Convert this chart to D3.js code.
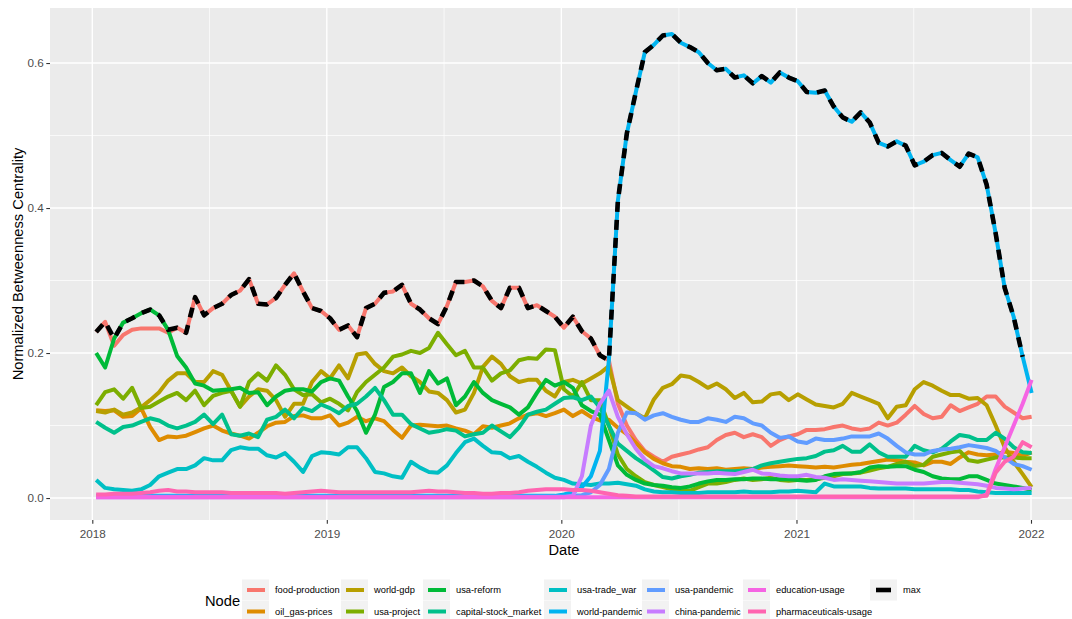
<!DOCTYPE html>
<html>
<head>
<meta charset="utf-8">
<script src="https://cdn.jsdelivr.net/npm/d3@7"></script>
<style>
  body { margin: 0; background: #fff; }
  svg { display: block; font-family: "Liberation Sans", Arial, sans-serif; }
</style>
</head>
<body>
<div id="chart"></div>
<script>
// node names and ggplot hue colours, in legend order
const nodeNames = ['food-production', 'oil_gas-prices', 'world-gdp', 'usa-project', 'usa-reform',
  'capital-stock_market', 'usa-trade_war', 'world-pandemic', 'usa-pandemic', 'china-pandemic',
  'education-usage', 'pharmaceuticals-usage'];
const nodeColors = ['#F8766D', '#DE8C00', '#B79F00', '#7CAE00', '#00BA38', '#00C08B',
  '#00BFC4', '#00B4F0', '#619CFF', '#C77CFF', '#F564E3', '#FF64B0'];

// dates: one reading every two weeks from this day
const firstDate = '2018-01-07';
const stepDays = 14;

const foodProduction = [
  .229, .243, .21, .225, .232, .234, .234, .234, .228, .235,
  .228, .277, .252, .262, .268, .28, .286, .302, .268, .267,
  .276, .294, .31, .285, .262, .258, .248, .232, .238, .222,
  .262, .268, .283, .285, .294, .268, .26, .248, .24, .265,
  .298, .298, .3, .292, .272, .262, .29, .29, .262, .266,
  .258, .25, .235, .25, .23, .22, .197, .19, .13, .1,
  .08, .065, .057, .05, .057, .06, .063, .067, .07, .08,
  .087, .09, .084, .088, .084, .072, .08, .085, .088, .094,
  .094, .095, .098, .1, .096, .094, .096, .104, .1, .104,
  .115, .127, .116, .11, .112, .128, .12, .125, .13, .14,
  .14, .126, .118, .11, .112];
const oilGasPrices = [
  .121, .12, .121, .112, .113, .124, .098, .08, .085, .084,
  .086, .091, .096, .1, .093, .089, .086, .082, .09, .099,
  .104, .105, .113, .114, .11, .11, .114, .1, .104, .112,
  .106, .11, .106, .094, .083, .1, .101, .1, .099, .1,
  .096, .093, .088, .099, .097, .1, .103, .11, .115, .117,
  .113, .117, .122, .113, .12, .112, .107, .108, .097, .088,
  .076, .063, .054, .048, .044, .043, .04, .041, .04, .041,
  .039, .04, .041, .04, .042, .043, .044, .045, .044, .043,
  .042, .043, .042, .044, .046, .047, .049, .051, .053, .052,
  .05, .049, .045, .05, .05, .047, .056, .063, .06, .059,
  .06, .064, .062, .058, .063];
const worldGdp = [
  .12, .118, .122, .115, .118, .125, .135, .146, .162, .172,
  .172, .16, .16, .175, .17, .148, .126, .14, .15, .148,
  .135, .112, .13, .13, .16, .175, .165, .183, .165, .198,
  .2, .185, .175, .172, .18, .168, .16, .147, .145, .135,
  .118, .122, .145, .181, .195, .185, .168, .16, .163, .163,
  .148, .14, .16, .163, .158, .165, .172, .182, .135, .126,
  .117, .11, .136, .152, .157, .169, .167, .16, .152, .158,
  .15, .138, .145, .132, .133, .143, .145, .135, .143, .136,
  .129, .127, .125, .13, .145, .14, .135, .13, .11, .126,
  .128, .15, .16, .155, .148, .142, .142, .137, .138, .128,
  .1, .07, .05, .033, .015];
const usaProject = [
  .128, .146, .15, .137, .152, .124, .126, .133, .14, .145,
  .135, .148, .128, .141, .145, .148, .126, .16, .172, .162,
  .183, .17, .15, .142, .143, .132, .137, .13, .121, .146,
  .16, .17, .18, .195, .198, .203, .2, .207, .228, .212,
  .197, .203, .18, .18, .162, .172, .176, .19, .193, .192,
  .205, .204, .15, .14, .16, .135, .135, .1, .06, .04,
  .03, .022, .018, .015, .012, .01, .01, .015, .02, .02,
  .022, .025, .027, .025, .026, .028, .025, .024, .025, .025,
  .026, .028, .03, .033, .034, .035, .038, .041, .043, .047,
  .05, .044, .046, .057, .06, .063, .065, .052, .05, .053,
  .056, .056, .056, .055, .055];
const usaReform = [
  .2, .18, .22, .242, .248, .255, .26, .252, .232, .196,
  .18, .158, .155, .148, .149, .15, .152, .145, .146, .128,
  .14, .148, .15, .15, .147, .16, .165, .162, .14, .12,
  .09, .115, .153, .16, .172, .172, .145, .175, .158, .165,
  .128, .14, .16, .145, .135, .13, .125, .115, .125, .145,
  .163, .155, .16, .152, .128, .12, .115, .08, .045, .032,
  .025, .02, .018, .017, .015, .014, .016, .02, .023, .025,
  .025, .026, .026, .027, .027, .026, .026, .026, .025, .024,
  .025, .03, .033, .034, .034, .036, .042, .044, .043, .044,
  .044, .039, .036, .03, .027, .026, .026, .03, .03, .025,
  .02, .018, .016, .014, .011];
const capitalStockMarket = [
  .105, .097, .09, .098, .1, .105, .11, .107, .1, .096,
  .1, .105, .115, .102, .115, .088, .086, .089, .084, .108,
  .112, .122, .11, .124, .12, .129, .124, .117, .127, .13,
  .14, .152, .135, .115, .115, .102, .096, .09, .092, .095,
  .093, .085, .088, .09, .1, .092, .084, .097, .115, .119,
  .122, .13, .138, .139, .135, .14, .125, .1, .075, .065,
  .055, .047, .038, .029, .027, .03, .032, .035, .036, .037,
  .037, .037, .038, .04, .045, .048, .05, .052, .054, .055,
  .058, .064, .066, .072, .064, .064, .074, .063, .057, .057,
  .057, .072, .066, .063, .068, .078, .087, .085, .08, .08,
  .09, .082, .07, .063, .062];
const usaTradeWar = [
  .025, .014, .012, .011, .01, .012, .018, .03, .035, .04,
  .04, .045, .055, .052, .052, .066, .07, .068, .068, .059,
  .056, .062, .05, .036, .058, .063, .062, .06, .07, .07,
  .055, .036, .034, .03, .028, .05, .042, .036, .035, .045,
  .062, .077, .082, .072, .063, .062, .055, .058, .05, .043,
  .035, .028, .025, .02, .019, .018, .02, .02, .021, .019,
  .017, .012, .009, .008, .008, .007, .007, .007, .008, .008,
  .008, .008, .009, .008, .008, .008, .009, .009, .01, .009,
  .008, .02, .016, .016, .016, .016, .014, .013, .013, .013,
  .013, .012, .012, .012, .012, .012, .011, .011, .009, .008,
  .007, .007, .007, .007, .007];
const worldPandemic = [
  .003, .003, .003, .003, .003, .003, .003, .003, .003, .003,
  .003, .003, .003, .003, .003, .003, .003, .003, .003, .003,
  .003, .003, .003, .003, .003, .003, .003, .003, .003, .003,
  .003, .003, .003, .003, .003, .003, .003, .003, .003, .003,
  .003, .003, .003, .003, .003, .003, .003, .003, .003, .003,
  .003, .003, .005, .008, .015, .03, .065, .19, .41, .503,
  .56, .615, .625, .638, .64, .628, .622, .615, .6, .59,
  .592, .58, .583, .572, .582, .573, .587, .58, .575, .56,
  .559, .562, .54, .525, .519, .532, .518, .49, .485, .492,
  .486, .459, .464, .473, .476, .466, .457, .475, .47, .432,
  .365, .29, .25, .195, .145];
const usaPandemic = [
  .002, .002, .002, .002, .002, .002, .002, .002, .002, .002,
  .002, .002, .002, .002, .002, .002, .002, .002, .002, .002,
  .002, .002, .002, .002, .002, .002, .002, .002, .002, .002,
  .002, .002, .002, .002, .002, .002, .002, .002, .002, .002,
  .002, .002, .002, .002, .002, .002, .002, .002, .002, .002,
  .002, .002, .002, .003, .004, .008, .018, .04, .09, .118,
  .117, .108, .114, .117, .112, .108, .105, .105, .11, .108,
  .105, .112, .11, .103, .1, .09, .083, .085, .078, .076,
  .082, .08, .08, .082, .085, .085, .085, .089, .082, .072,
  .063, .06, .06, .065, .067, .068, .07, .073, .071, .069,
  .065, .056, .047, .044, .039];
const chinaPandemic = [
  .001, .001, .001, .001, .001, .001, .001, .001, .001, .001,
  .001, .001, .001, .001, .001, .001, .001, .001, .001, .001,
  .001, .001, .001, .001, .001, .001, .001, .001, .001, .001,
  .001, .001, .001, .001, .001, .001, .001, .001, .001, .001,
  .001, .001, .001, .001, .001, .001, .001, .001, .001, .001,
  .001, .001, .001, .003, .03, .1, .13, .148, .112, .088,
  .068, .053, .044, .041, .037, .034, .034, .034, .034, .035,
  .034, .033, .036, .039, .034, .033, .031, .03, .03, .032,
  .029, .028, .025, .026, .025, .024, .023, .022, .021, .02,
  .02, .02, .02, .021, .022, .022, .021, .02, .019, .017,
  .014, .013, .012, .013, .014];
const educationUsage = [
  .001, .001, .001, .001, .001, .001, .001, .001, .001, .001,
  .001, .001, .001, .001, .001, .001, .001, .001, .001, .001,
  .001, .001, .001, .001, .001, .001, .001, .001, .001, .001,
  .001, .001, .001, .001, .001, .001, .001, .001, .001, .001,
  .001, .001, .001, .001, .001, .001, .001, .001, .001, .001,
  .001, .001, .001, .001, .001, .001, .001, .001, .001, .001,
  .001, .001, .001, .001, .001, .001, .001, .001, .001, .001,
  .001, .001, .001, .001, .001, .001, .001, .001, .001, .001,
  .001, .001, .001, .001, .001, .001, .001, .001, .001, .001,
  .001, .001, .001, .001, .001, .001, .001, .001, .001, .005,
  .04, .07, .1, .13, .163];
const pharmaceuticalsUsage = [
  .005, .005, .006, .006, .006, .007, .008, .01, .011, .009,
  .009, .008, .008, .008, .008, .007, .007, .007, .007, .007,
  .007, .006, .007, .008, .009, .01, .009, .008, .008, .008,
  .008, .008, .008, .008, .008, .008, .009, .01, .009, .009,
  .008, .007, .007, .006, .006, .007, .007, .008, .01, .011,
  .012, .012, .012, .011, .011, .01, .008, .006, .004, .003,
  .002, .002, .002, .002, .002, .002, .002, .002, .002, .002,
  .002, .002, .002, .002, .002, .002, .002, .002, .002, .002,
  .002, .002, .002, .002, .002, .002, .002, .002, .002, .002,
  .002, .002, .002, .002, .002, .002, .002, .002, .002, .003,
  .035, .05, .057, .077, .07];

const nodeValues = [foodProduction, oilGasPrices, worldGdp, usaProject, usaReform,
  capitalStockMarket, usaTradeWar, worldPandemic, usaPandemic, chinaPandemic,
  educationUsage, pharmaceuticalsUsage];

const maxLastIndex = 103; // the max line stops one reading before the end
const yTickValues = [0, 0.2, 0.4, 0.6];
const yMinorValues = [0.1, 0.3, 0.5];
const xTickYears = [2018, 2019, 2020, 2021, 2022];

const width = 1072, height = 619;
const panel = { left: 50, right: 1078, top: 8, bottom: 520 };

const start = d3.utcParse('%Y-%m-%d')(firstDate);
const dates = foodProduction.map((v, i) => d3.utcDay.offset(start, i * stepDays));
const maxValues = dates.slice(0, maxLastIndex + 1).map((d, i) => d3.max(nodeValues, s => s[i]));

const x = d3.scaleUtc()
  .domain([new Date(Date.UTC(2018, 0, 1)), new Date(Date.UTC(2022, 0, 1))])
  .range([92.3, 1031]);
const y = d3.scaleLinear().domain([-0.0303, 0.6759]).range([panel.bottom, panel.top]);

const svg = d3.select('#chart').append('svg').attr('width', width).attr('height', height);

svg.append('rect').attr('x', panel.left).attr('y', panel.top)
  .attr('width', panel.right - panel.left).attr('height', panel.bottom - panel.top)
  .attr('fill', '#EBEBEB');

svg.append('clipPath').attr('id', 'clip').append('rect')
  .attr('x', panel.left).attr('y', panel.top)
  .attr('width', panel.right - panel.left).attr('height', panel.bottom - panel.top);

const yearDates = xTickYears.map(yr => new Date(Date.UTC(yr, 0, 1)));
const halfYears = d3.pairs(yearDates).map(([a, b]) => new Date((+a + +b) / 2));

const grid = svg.append('g');
grid.selectAll('.ymin').data(yMinorValues).join('line')
  .attr('x1', panel.left).attr('x2', panel.right)
  .attr('y1', d => y(d)).attr('y2', d => y(d))
  .attr('stroke', '#fff').attr('stroke-width', 0.7);
grid.selectAll('.xmin').data(halfYears).join('line')
  .attr('x1', d => x(d)).attr('x2', d => x(d))
  .attr('y1', panel.top).attr('y2', panel.bottom)
  .attr('stroke', '#fff').attr('stroke-width', 0.7);
grid.selectAll('.ymaj').data(yTickValues).join('line')
  .attr('x1', panel.left).attr('x2', panel.right)
  .attr('y1', d => y(d)).attr('y2', d => y(d))
  .attr('stroke', '#fff').attr('stroke-width', 1.4);
grid.selectAll('.xmaj').data(yearDates).join('line')
  .attr('x1', d => x(d)).attr('x2', d => x(d))
  .attr('y1', panel.top).attr('y2', panel.bottom)
  .attr('stroke', '#fff').attr('stroke-width', 1.4);

const line = d3.line().x((d, i) => x(dates[i])).y(d => y(d));

const plot = svg.append('g').attr('clip-path', 'url(#clip)');
plot.selectAll('.node').data(nodeValues).join('path')
  .attr('d', d => line(d))
  .attr('fill', 'none')
  .attr('stroke', (d, i) => nodeColors[i])
  .attr('stroke-width', 4)
  .attr('stroke-linejoin', 'round');

plot.append('path')
  .attr('d', line(maxValues))
  .attr('fill', 'none')
  .attr('stroke', '#000')
  .attr('stroke-width', 4.6)
  .attr('stroke-dasharray', '10,8')
  .attr('stroke-linejoin', 'round');

// axes
const yAxis = svg.append('g').attr('transform', `translate(${panel.left},0)`)
  .call(d3.axisLeft(y).tickValues(yTickValues).tickFormat(d3.format('.1f')).tickSize(3.7).tickPadding(2.6));
const xAxis = svg.append('g').attr('transform', `translate(0,${panel.bottom})`)
  .call(d3.axisBottom(x).tickValues(yearDates).tickFormat(d3.utcFormat('%Y')).tickSize(3.7).tickPadding(6.3));
[xAxis, yAxis].forEach(g => {
  g.select('.domain').remove();
  g.selectAll('line').attr('stroke', '#333').attr('stroke-width', 1.1);
  g.selectAll('text').attr('fill', '#4D4D4D').style('font-size', '11.7px');
});

svg.append('text').attr('x', (panel.left + panel.right) / 2).attr('y', 555)
  .attr('text-anchor', 'middle').style('font-size', '14.7px').text('Date');
svg.append('text')
  .attr('transform', `translate(22.5,${(panel.top + panel.bottom) / 2}) rotate(-90)`)
  .attr('text-anchor', 'middle').style('font-size', '14.7px')
  .text('Normalized Betweenness Centrality');

// legend
const legendTextX = [275, 374, 456, 577, 675, 776, 903];
const legendRowY = [590, 611.5];
const legendItems = nodeNames.map((n, i) => ({ name: n, color: nodeColors[i], dashed: false }))
  .concat([{ name: 'max', color: '#000', dashed: true }]);

const legend = svg.append('g');
legend.append('text').attr('x', 205).attr('y', 606).style('font-size', '14.7px').text('Node');

const item = legend.selectAll('.item').data(legendItems).join('g')
  .attr('transform', (d, i) => `translate(${legendTextX[Math.floor(i / 2)]},${legendRowY[i % 2]})`);
item.append('rect').attr('x', -33).attr('y', -10.5).attr('width', 27).attr('height', 21)
  .attr('fill', '#F2F2F2');
item.append('line').attr('x1', d => d.dashed ? -27 : -28).attr('x2', d => d.dashed ? -12 : -10)
  .attr('y1', 0).attr('y2', 0)
  .attr('stroke', d => d.color).attr('stroke-width', d => d.dashed ? 4.6 : 4);
item.append('text').attr('x', 0).attr('y', 3.3).style('font-size', '9.3px').attr('fill', '#000')
  .text(d => d.name);
</script>
</body>
</html>
